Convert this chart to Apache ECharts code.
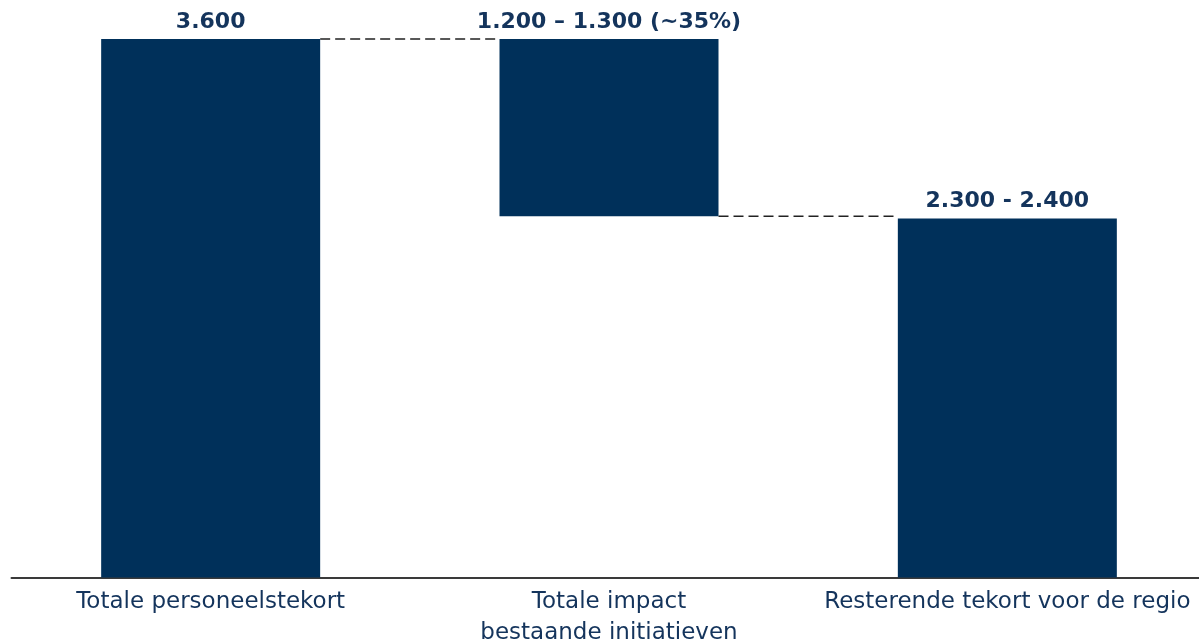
<!DOCTYPE html>
<html>
<head>
<meta charset="utf-8">
<script src="https://cdn.jsdelivr.net/npm/echarts@6/dist/echarts.min.js"></script>
<style>
  html, body { margin: 0; padding: 0; background: #fff; }
  #chart { width: 1199px; height: 644px; }
</style>
</head>
<body>
<div id="chart"></div>
<script>
// waterfall: totaal tekort -> impact initiatieven -> resterend tekort
const categories = ['Totale personeelstekort', 'Totale impact\nbestaande initiatieven', 'Resterende tekort voor de regio'];
const totals = [3600, null, 2400];
const impactBase = [null, 2415, null];
const impactValue = [null, 1185, null];
const valueLabels = ['3.600', '1.200 \u2013 1.300 (~35%)', '2.300 - 2.400'];
// connector lines: [from category, level]
const connectors = [[0, 3600], [1, 2415]];

const BAR_W = 219;
const NAVY = '#00305a';
const TEXT = '#14345c';

const chart = echarts.init(document.getElementById('chart'));

const labelStyle = {
  show: true,
  position: 'top',
  distance: 6,
  fontFamily: 'DejaVu Sans',
  fontWeight: 'bold',
  fontSize: 22,
  color: TEXT,
  formatter: p => valueLabels[p.dataIndex]
};

chart.setOption({
  animation: false,
  grid: { left: 11.5, width: 1195, top: 39, bottom: 66.5, containLabel: false, outerBoundsMode: 'none' },
  xAxis: {
    type: 'category',
    data: categories,
    axisTick: { show: false },
    axisLine: { lineStyle: { color: '#3a3a3a', width: 2 } },
    axisLabel: {
      margin: 9,
      fontFamily: 'DejaVu Sans',
      fontSize: 23,
      lineHeight: 31,
      color: TEXT,
      interval: 0
    }
  },
  yAxis: { type: 'value', min: 0, max: 3600, show: false, splitLine: { show: false } },
  series: [
    {
      type: 'bar',
      stack: 'w',
      data: totals,
      barWidth: BAR_W,
      itemStyle: { color: NAVY },
      label: labelStyle
    },
    {
      type: 'bar',
      stack: 'w',
      data: impactBase,
      barWidth: BAR_W,
      itemStyle: { color: 'transparent' },
      silent: true
    },
    {
      type: 'bar',
      stack: 'w',
      data: impactValue,
      barWidth: BAR_W,
      itemStyle: { color: NAVY },
      label: labelStyle
    },
    {
      type: 'custom',
      data: connectors,
      z: 1,
      renderItem: (params, api) => {
        const i = api.value(0);
        const v = api.value(1);
        const a = api.coord([i, v]);
        const b = api.coord([i + 1, v]);
        return {
          type: 'line',
          shape: { x1: a[0] + BAR_W / 2, y1: a[1], x2: b[0] - BAR_W / 2, y2: b[1] },
          style: { stroke: '#222', lineWidth: 1.5, lineDash: [10, 5] }
        };
      }
    }
  ]
});
</script>
</body>
</html>
